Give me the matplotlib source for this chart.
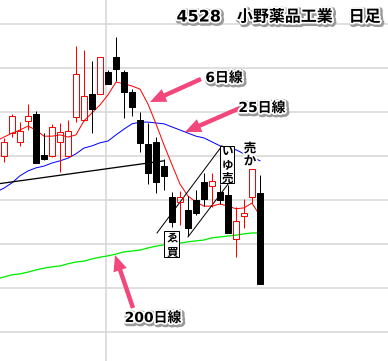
import matplotlib
matplotlib.use("Agg")
import matplotlib.pyplot as plt
import matplotlib.patheffects as pe
from matplotlib.patches import Rectangle
import numpy as np

plt.rcParams['font.family'] = ['DejaVu Sans', 'Noto Sans CJK JP']

# ---------------- data ----------------
title = "4528\u3000小野薬品工業\u3000日足"
label_ma6 = "6日線"
label_ma25 = "25日線"
label_ma200 = "200日線"

opens = [3500, 3552, 3532, 3580, 3595, 3502, 3500, 3532, 3500, 3589, 3582, 3641, 3641, 3691, 3725, 3691, 3645,
         3582, 3527, 3532, 3477, 3407, 3395, 3377, 3400, 3441, 3432, 3418, 3411, 3311, 3364, 3407, 3416]
closes = [3532, 3591, 3557, 3591, 3484, 3493, 3566, 3555, 3557, 3686, 3636, 3607, 3725, 3664, 3698, 3645, 3611,
          3530, 3461, 3441, 3455, 3350, 3407, 3336, 3370, 3402, 3443, 3400, 3325, 3352, 3370, 3470, 3209]
highs = [3541, 3595, 3577, 3618, 3602, 3552, 3573, 3575, 3582, 3750, 3741, 3716, 3725, 3695, 3770, 3695, 3652,
         3600, 3575, 3543, 3493, 3418, 3420, 3409, 3423, 3461, 3461, 3436, 3434, 3384, 3402, 3470, 3457]
lows = [3486, 3543, 3523, 3559, 3484, 3491, 3498, 3464, 3500, 3577, 3580, 3552, 3641, 3664, 3670, 3586, 3591,
        3509, 3436, 3416, 3423, 3339, 3343, 3318, 3366, 3386, 3384, 3391, 3325, 3270, 3336, 3393, 3209]

ma_index = list(range(-1, 33))
ma6 = [3534, 3543, 3552, 3559, 3568, 3559, 3545, 3545, 3548, 3543, 3548, 3580, 3598, 3616, 3639, 3668, 3664,
       3659, 3652, 3618, 3573, 3525, 3480, 3436, 3409, 3395, 3386, 3386, 3391, 3386, 3380, 3382, 3393, 3364]
ma25 = [3418, 3427, 3439, 3455, 3466, 3473, 3477, 3484, 3489, 3495, 3505, 3518, 3523, 3530, 3534, 3548, 3561,
        3573, 3577, 3577, 3575, 3573, 3566, 3559, 3552, 3545, 3541, 3532, 3523, 3518, 3514, 3505, 3498, 3489]
ma200 = [3220, 3225, 3230, 3232, 3236, 3241, 3245, 3248, 3250, 3255, 3259, 3261, 3266, 3270, 3273, 3277, 3282,
         3284, 3286, 3291, 3295, 3298, 3300, 3302, 3305, 3307, 3309, 3314, 3316, 3318, 3320, 3323, 3325, 3325]

# hand-drawn trend lines (index, price)
resist_x = [-1, 20]
resist_y = [3436, 3489]
chan_a_x = [19.125, 27.25]
chan_a_y = [3325, 3523]
chan_b_x = [23, 28]
chan_b_y = [3316, 3436]

note_sell_box = "い\nゆ\n売"
note_buy_box = "ゑ\n買"
note_sell = "売\nか"

grid_prices = [3100, 3200, 3300, 3400, 3500, 3600, 3700, 3800]
month_break = [12.75]

# ---------------- figure ----------------
W, H = 388, 361
fig = plt.figure(figsize=(W / 100, H / 100), dpi=100)
ax = fig.add_axes([0, 0, 1, 1])
ax.set_xlim(-0.5, 48)
ax.set_ylim(3034.0, 3854.5)
ax.set_yticks(grid_prices)
ax.set_xticks(month_break)
ax.grid(True, color='#d9d9d9', lw=1.2, zorder=0)
ax.set_axisbelow(True)
ax.tick_params(length=0, labelleft=False, labelbottom=False)
for s in ax.spines.values():
    s.set_visible(False)

px = 0.72  # one pixel in points

# moving averages and lines
ax.plot(ma_index, ma200, color='#00ee00', lw=1.3 * px, zorder=2)
ax.plot(ma_index, ma25, color='#0000ff', lw=1.0 * px, zorder=2)
ax.plot(ma_index, ma6, color='#ff0000', lw=1.0 * px, zorder=2)
ax.plot(resist_x, resist_y, color='black', lw=1.3 * px, zorder=2)
ax.plot(chan_a_x, chan_a_y, color='black', lw=1.0 * px, zorder=2)
ax.plot(chan_b_x, chan_b_y, color='black', lw=1.0 * px, zorder=2)

# candles
o = np.array(opens); c = np.array(closes); h = np.array(highs); l = np.array(lows)
x = np.arange(len(o))
up = c >= o
bot = np.minimum(o, c); top = np.maximum(o, c)
cols = np.where(up, '#ff0000', 'black')
ax.vlines(x, top, h, colors=cols, lw=1.0 * px, zorder=3)
ax.vlines(x, l, bot, colors=cols, lw=1.0 * px, zorder=3)
ax.bar(x[up], (top - bot)[up], bottom=bot[up], width=0.72, facecolor='none',
       edgecolor='#ff0000', linewidth=1.0 * px, zorder=3)
ax.bar(x[~up], (top - bot)[~up], bottom=bot[~up], width=0.78, facecolor='black',
       edgecolor='black', linewidth=1.0 * px, zorder=3)


def fp(xp, yp):
    return (xp / W, 1 - yp / H)


# boxes with vertical text
def vbox(x0, y0, x1, y1, text, size, ls):
    r = Rectangle(fp(x0, y1), (x1 - x0) / W, (y1 - y0) / H, transform=fig.transFigure,
                  facecolor='white', edgecolor='black', lw=1.0 * px, zorder=4)
    ax.add_patch(r)
    fig.text(*fp((x0 + x1) / 2 + 0.5, (y0 + y1) / 2 + 0.5), text, ha='center', va='center',
             ma='center', fontsize=size, fontweight='bold', family='Noto Sans CJK JP',
             linespacing=ls, zorder=5)


vbox(220, 146, 234, 183, note_sell_box, 8.3, 1.02)
vbox(164, 231, 179, 257, note_buy_box, 8.3, 1.02)

fig.text(*fp(250, 155), note_sell, ha='center', va='center', ma='center', fontsize=9,
         fontweight='bold', family='Noto Sans CJK JP', linespacing=0.95, zorder=5,
         path_effects=[pe.Stroke(linewidth=2.5, foreground='white'), pe.Normal()])

# arrows
pink = '#f2477b'
for tail, tip in [((201, 79), (150, 102)), ((240, 108), (185, 132)), ((133, 308), (115, 255))]:
    ax.annotate('', xy=fp(*tip), xytext=fp(*tail), xycoords='figure fraction',
                textcoords='figure fraction',
                arrowprops=dict(arrowstyle='simple,head_length=1.15,head_width=1.0,tail_width=0.32',
                                fc=pink, ec='none', mutation_scale=10, shrinkA=0, shrinkB=0),
                zorder=6)

effects = [pe.Stroke(linewidth=4, foreground='#9a9a9a', offset=(1, -1)),
           pe.Stroke(linewidth=2.5, foreground='white'), pe.Normal()]
for txt, (xx, yy) in [(label_ma6, (224, 78)), (label_ma25, (262, 108)), (label_ma200, (153, 318))]:
    fig.text(*fp(xx, yy), txt, ha='center', va='center', fontsize=10, fontweight='bold',
             path_effects=effects, zorder=7)

fig.text(*fp(381, 17), title, ha='right', va='center', fontsize=11.5, fontweight='bold',
         path_effects=effects, zorder=7)

fig.savefig('out.png', dpi=100)
